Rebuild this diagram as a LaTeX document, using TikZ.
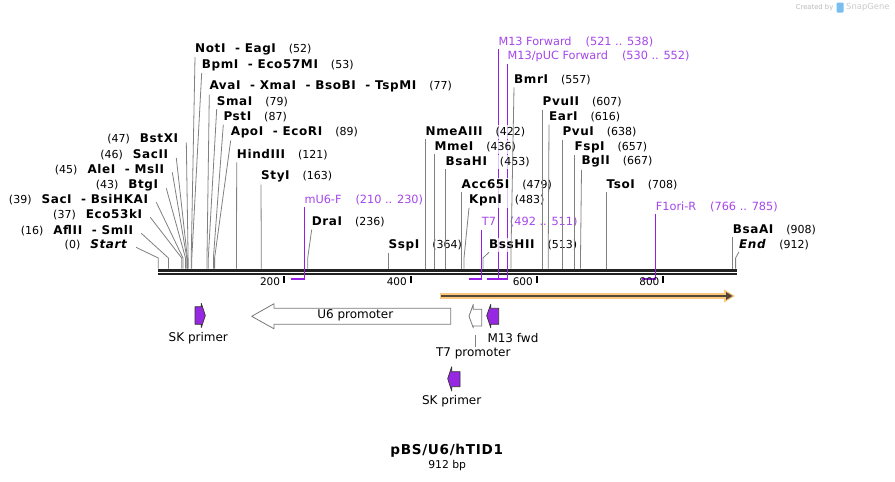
\documentclass[tikz,border=0pt]{standalone}
\usepackage{fontspec}
\setmainfont{DejaVu Sans}[BoldFont={DejaVu Sans Bold},ItalicFont={DejaVu Sans Oblique},BoldItalicFont={DejaVu Sans Bold Oblique},BoldFeatures={LetterSpace=5},BoldItalicFeatures={LetterSpace=5}]
\definecolor{leadgray}{RGB}{128,128,128}
\definecolor{primerline}{RGB}{150,30,230}
\definecolor{primertext}{RGB}{165,70,235}
\definecolor{primerfill}{RGB}{150,40,225}
\definecolor{bbone}{RGB}{34,34,34}
\definecolor{orangeL}{RGB}{249,200,125}
\definecolor{orangeD}{RGB}{85,70,55}
\definecolor{featgray}{RGB}{120,120,120}
\definecolor{wmgray}{RGB}{185,185,185}
\definecolor{wmblue}{RGB}{120,190,240}
\tikzset{
  enzR/.style={anchor=west,inner xsep=0pt,inner ysep=2pt,fill=white,fill opacity=0.75,text opacity=1,font=\fontsize{11}{13}\selectfont},
  enzL/.style={anchor=east,inner xsep=0pt,inner ysep=2pt,fill=white,fill opacity=0.75,text opacity=1,font=\fontsize{11}{13}\selectfont},
  leader/.style={draw=leadgray,line width=0.8pt},
  primlab/.style={anchor=west,inner xsep=0pt,inner ysep=2pt,text=primertext,font=\fontsize{11.3}{13}\selectfont},
  primline/.style={draw=primerline,line width=1.3pt},
  featlab/.style={inner sep=0pt,font=\fontsize{12}{14}\selectfont},
  ticklab/.style={anchor=east,inner sep=0pt,font=\fontsize{10.5}{12}\selectfont},
  tickmark/.style={draw=black,line width=2pt},
  bb/.style={draw=bbone,line width=2.6pt},
  primarrow/.style={fill=primerfill,draw=black!80,line width=0.7pt,line join=round},
  promarrow/.style={fill=white,draw=featgray,line width=0.8pt,line join=round},
}
\newcommand{\nm}[1]{{\fontsize{12}{13}\selectfont\bfseries #1}}
\newcommand{\renz}[6]{%
  \node[enzR] (l#1) at (#2,#3) {\nm{#4}\hspace{13pt}(#5)};
  \coordinate (k#1) at (#6,258);
  \coordinate (s#1) at (#6,268.5);
  \draw[leader] (l#1.south west) -- (k#1) -- (s#1);
}
\newcommand{\lenz}[6]{%
  \node[enzL] (l#1) at (#2,#3) {(#4)\hspace{10pt}\nm{#5}};
  \coordinate (k#1) at (#6,258);
  \coordinate (s#1) at (#6,268.5);
  \draw[leader] ([shift={(8,3)}]l#1.east) -- (k#1) -- (s#1);
}
\newcommand{\primer}[7]{%
  \node[primlab] (p#1) at (#2,#3) {#4\hspace{14pt}(#5)};
  \coordinate (pb#1) at (#6,279);
  \coordinate (pl#1) at (#7,279);
  \coordinate (pu#1) at (#6,265);
  \draw[primline] (p#1.south west) -- (pb#1) -- (pl#1);
}
\begin{document}
\begin{tikzpicture}[x=1pt,y=-1pt]
\useasboundingbox[fill=white] (0,0) rectangle (895,482);

% watermark
\node[anchor=east,inner sep=0pt,text=wmgray,font=\fontsize{6.8}{8}\selectfont] (wm1) at (833.5,7.5) {Created by};
\fill[wmblue,rounded corners=1pt] (836.7,2.5) rectangle (843.5,12.5);
\node[anchor=west,inner sep=0pt,text=wmgray!110!black,font=\fontsize{8.4}{10}\selectfont] (wm2) at (846,7) {SnapGene};

% primers (purple)
\primer{mtf}{498.3}{41.7}{M13 Forward}{521 .. 538}{498.3}{487}
\primer{puc}{507.5}{56.7}{M13/pUC Forward}{530 .. 552}{507.5}{493}
\primer{muf}{304.3}{200}{mU6-F}{210 .. 230}{304.3}{291}
\primer{tsv}{481.7}{222.3}{T7}{492 .. 511}{481.7}{469}
\primer{fone}{655.7}{206.7}{F1ori-R}{766 .. 785}{655.7}{642}

% left-side enzymes
\lenz{start}{128}{244.3}{0}{\textit{Start}}{158.3}
\lenz{afl}{133.3}{230.3}{16}{AflII\ \ - SmlI}{168.4}
\lenz{ecoft}{142.3}{214.3}{37}{Eco53kI}{181.7}
\lenz{sac}{148.3}{199.3}{39}{SacI\ \ - BsiHKAI}{183.0}
\lenz{btg}{158.3}{185.3}{43}{BtgI}{185.5}
\lenz{ale}{164.3}{169.3}{45}{AleI\ \ - MslI}{186.8}
\lenz{sacii}{168.3}{155}{46}{SacII}{187.4}
\lenz{bstx}{178.3}{139.3}{47}{BstXI}{188.1}

% right-side enzymes
\renz{not}{195}{49.3}{NotI\ \ - EagI}{52}{191.2}
\renz{bpm}{201.7}{65}{BpmI\ \ - Eco57MI}{53}{191.8}
\renz{ava}{209.3}{86.7}{AvaI\ \ - XmaI\ \ - BsoBI\ \ - TspMI}{77}{207.0}
\renz{sma}{216.7}{101.7}{SmaI}{79}{208.3}
\renz{pst}{223.3}{117.3}{PstI}{87}{213.4}
\renz{apo}{230.7}{132.7}{ApoI\ \ - EcoRI}{89}{214.6}
\renz{hind}{236.7}{155}{HindIII}{121}{236.5}
\renz{sty}{261}{176.7}{StyI}{163}{261.3}
\renz{dra}{311.7}{222.3}{DraI}{236}{307.7}
\renz{ssp}{388.5}{245}{SspI}{364}{388.5}
\renz{nme}{425.5}{131.7}{NmeAIII}{422}{425.5}
\renz{mme}{434.3}{146.7}{MmeI}{436}{434.3}
\renz{bsah}{445.5}{162}{BsaHI}{453}{445.5}
\renz{acc}{461.5}{185}{Acc65I}{479}{461.5}
\renz{kpn}{469}{200}{KpnI}{483}{464.0}
\renz{bss}{489}{245}{BssHII}{513}{483.0}
\renz{bmr}{514}{80}{BmrI}{557}{510.9}
\renz{pvuii}{542.5}{102.3}{PvuII}{607}{542.5}
\renz{ear}{549}{117.3}{EarI}{616}{548.2}
\renz{pvui}{562.3}{132.3}{PvuI}{638}{562.3}
\renz{fsp}{574.3}{147.3}{FspI}{657}{574.3}
\renz{bgl}{581.5}{161.7}{BglI}{667}{580.5}
\renz{tso}{606.5}{185}{TsoI}{708}{606.5}
\renz{bsaa}{732.7}{230}{BsaAI}{908}{732.7}
\renz{end}{739}{244.3}{\textit{End}}{912}{735.6}

% backbone
\coordinate (bbL1) at (158.3,270.4);
\coordinate (bbR1) at (736.7,270.4);
\coordinate (bbL2) at (158.3,274.1);
\coordinate (bbR2) at (736.7,274.1);
\draw[bb] (bbL1) -- (bbR1);
\draw[bb] (bbL2) -- (bbR2);

% primer lines crossing the backbone
\foreach \p in {mtf,puc,muf,tsv,fone}{
  \draw[primline] (pu\p) -- (pb\p);
}

% ticks
\foreach \v/\x in {200/284,400/410.7,600/536.7,800/663.3}{
  \coordinate (ta\v) at (\x,276);
  \coordinate (tb\v) at (\x,282.5);
  \draw[tickmark] (ta\v) -- (tb\v);
  \node[ticklab] (tl\v) at (\x-3.7,282) {\v};
}

% orange feature bar
\fill[orangeL] (440,292.8) rectangle (726,299.2);
\fill[orangeL] (724,289.5) -- (735,296) -- (724,302.5) -- cycle;
\coordinate (or1) at (441,296);
\coordinate (or2) at (727,296);
\draw[orangeD,line width=1.8pt] (or1) -- (or2);
\fill[orangeD] (726,292) -- (732.5,296) -- (726,300) -- cycle;

% U6 promoter
\draw[promarrow] (450.7,308.3) -- (274,308.3) -- (274,303.7) -- (251.7,316.3) -- (274,328.8) -- (274,324.3) -- (450.7,324.3) -- cycle;
\node[featlab] (uprom) at (355.3,315.7) {U6 promoter};

% T7 promoter
\draw[promarrow] (481.7,309.3) -- (473.3,309.3) -- (473.3,304.3) -- (469,316.3) -- (473.3,327.8) -- (473.3,326) -- (481.7,326) -- cycle;
\coordinate (tpa) at (475,335);
\coordinate (tpb) at (475,346.7);
\draw[leader,line width=0.7pt] (tpa) -- (tpb);
\node[featlab] (tprom) at (473.3,353.7) {T7 promoter};

% M13 fwd
\draw[primarrow] (498.7,308.3) -- (490.7,308.3) -- (490.7,304.3) -- (486.7,315.7) -- (490.7,327.7) -- (490.7,324.3) -- (498.7,324.3) -- cycle;
\node[featlab,anchor=west] (mfwd) at (487.3,337.7) {M13 fwd};

% SK primer 1
\draw[primarrow] (195,306.7) -- (201.3,306.7) -- (201.3,303.3) -- (205.3,315.5) -- (201.3,327.5) -- (201.3,324.3) -- (195,324.3) -- cycle;
\node[featlab] (skone) at (198.3,337.7) {SK primer};

% SK primer 2
\draw[primarrow] (460,371.7) -- (451.7,371.7) -- (451.7,366.7) -- (447.7,378.7) -- (451.7,391) -- (451.7,386.7) -- (460,386.7) -- cycle;
\node[featlab] (sktwo) at (451.7,400.7) {SK primer};

% title
\node[inner sep=0pt,font=\fontsize{13.6}{16}\selectfont\bfseries] (title) at (446.7,451) {pBS/U6/hTID1};
\node[inner sep=0pt,font=\fontsize{10.8}{12}\selectfont] (size) at (447.2,465.5) {912 bp};
\end{tikzpicture}
\end{document}
